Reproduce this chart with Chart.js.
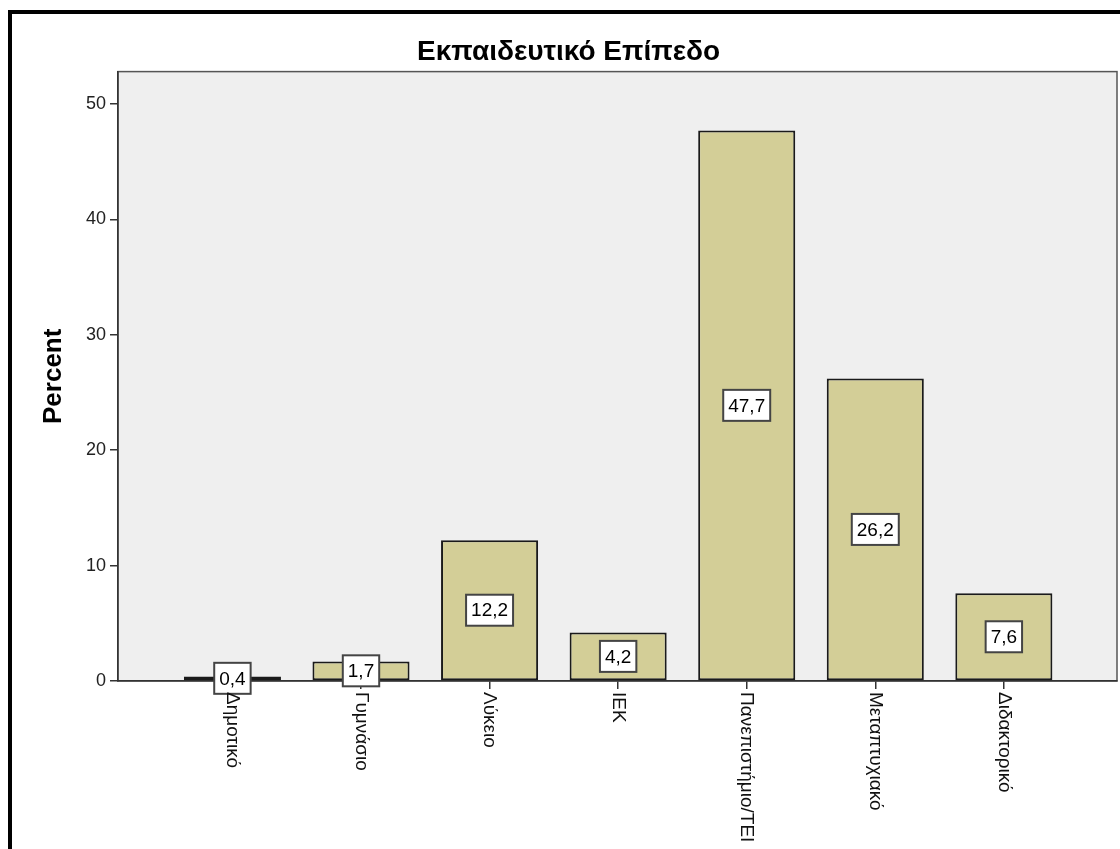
<!DOCTYPE html>
<html>
<head>
<meta charset="utf-8">
<script src="https://cdn.jsdelivr.net/npm/chart.js@4/dist/chart.umd.min.js"></script>
<style>
  html, body { margin: 0; padding: 0; background: #fff; overflow: hidden; }
  #wrap { position: absolute; left: 0; top: 0; width: 1120px; height: 849px; }
  #frame { position: absolute; left: 8px; top: 10px; width: 1200px; height: 1000px;
           border-left: 4px solid #000; border-top: 4px solid #000; pointer-events: none; z-index: 2; }
</style>
</head>
<body>
<div id="wrap"><canvas id="chart" width="1120" height="849"></canvas></div>
<div id="frame"></div>
<script>
const categories = ['Δημοτικό', 'Γυμνάσιο', 'Λύκειο', 'ΙΕΚ', 'Πανεπιστήμιο/ΤΕΙ', 'Μεταπτυχιακό', 'Διδακτορικό'];
const percents = [0.4, 1.7, 12.2, 4.2, 47.7, 26.2, 7.6];
const yTicks = [0, 10, 20, 30, 40, 50];

const font = '"Liberation Sans", Arial, sans-serif';

// plot background + frame
const plotBg = {
    id: 'plotBg',
    beforeDraw(chart) {
        const a = chart.chartArea, c = chart.ctx;
        c.save();
        c.fillStyle = '#efefef';
        c.fillRect(a.left, a.top, a.right - a.left, a.bottom - a.top);
        c.strokeStyle = '#555';
        c.lineWidth = 1.5;
        c.strokeRect(a.left, a.top, a.right - a.left, a.bottom - a.top);
        c.restore();
    }
};

// value boxes in the middle of each bar + rotated category labels
const labels = {
    id: 'labels',
    afterDatasetsDraw(chart) {
        const c = chart.ctx;
        const meta = chart.getDatasetMeta(0);
        c.save();
        c.font = '19px ' + font;
        c.textAlign = 'center';
        c.textBaseline = 'middle';
        meta.data.forEach((bar, i) => {
            const txt = percents[i].toFixed(1).replace('.', ',');
            const w = c.measureText(txt).width + 10;
            const h = 31;
            const cy = (bar.y + bar.base) / 2;
            c.fillStyle = '#fff';
            c.fillRect(bar.x - w / 2, cy - h / 2, w, h);
            c.strokeStyle = '#444';
            c.lineWidth = 2;
            c.strokeRect(bar.x - w / 2, cy - h / 2, w, h);
            c.fillStyle = '#000';
            c.fillText(txt, bar.x, cy + 1);
        });
        c.restore();
    },
    afterDraw(chart) {
        const c = chart.ctx, x = chart.scales.x;
        c.save();
        c.font = '19px ' + font;
        c.fillStyle = '#111';
        c.textAlign = 'left';
        c.textBaseline = 'middle';
        categories.forEach((name, i) => {
            c.save();
            c.translate(x.getPixelForValue(i), chart.chartArea.bottom + 11);
            c.rotate(Math.PI / 2);
            c.fillText(name, 0, 0);
            c.restore();
        });
        c.restore();
    }
};

new Chart(document.getElementById('chart').getContext('2d'), {
    type: 'bar',
    data: {
        datasets: [{
            data: percents.map((v, i) => ({ x: i, y: v })),
            backgroundColor: '#d3ce97',
            borderColor: '#1a1a1a',
            borderWidth: 2,
            borderSkipped: false,
            barPercentage: 0.755,
            categoryPercentage: 1
        }]
    },
    options: {
        responsive: false,
        animation: false,
        layout: { padding: { left: 20, right: 3, top: 0, bottom: 0 } },
        plugins: {
            legend: { display: false },
            tooltip: { enabled: false },
            title: {
                display: true,
                text: 'Εκπαιδευτικό Επίπεδο',
                color: '#000',
                font: { family: font, size: 28, weight: 'bold' },
                padding: { top: 35, bottom: 3 }
            }
        },
        scales: {
            x: {
                type: 'linear',
                offset: false,
                min: -0.89,
                max: 6.88,
                afterBuildTicks: s => { s.ticks = categories.map((c, i) => ({ value: i })); },
                afterFit: s => { s.height = 168; },
                ticks: { display: false },
                grid: { offset: false, drawOnChartArea: false, drawTicks: true, tickLength: 8, color: '#333', lineWidth: 1.5 },
                border: { display: true, color: '#333', width: 1.5 }
            },
            y: {
                min: 0,
                max: 52.8,
                afterBuildTicks: s => { s.ticks = yTicks.map(v => ({ value: v })); },
                afterFit: s => { s.width = 98; },
                ticks: { color: '#222', padding: 4, font: { family: font, size: 18 } },
                grid: { drawOnChartArea: false, drawTicks: true, tickLength: 8, color: '#333', lineWidth: 1.5 },
                border: { display: true, color: '#333', width: 1.5 },
                title: {
                    display: true,
                    text: 'Percent',
                    color: '#000',
                    font: { family: font, size: 26, weight: 'bold' },
                    padding: { top: 18, bottom: 0 }
                }
            }
        }
    },
    plugins: [plotBg, labels]
});
</script>
</body>
</html>
